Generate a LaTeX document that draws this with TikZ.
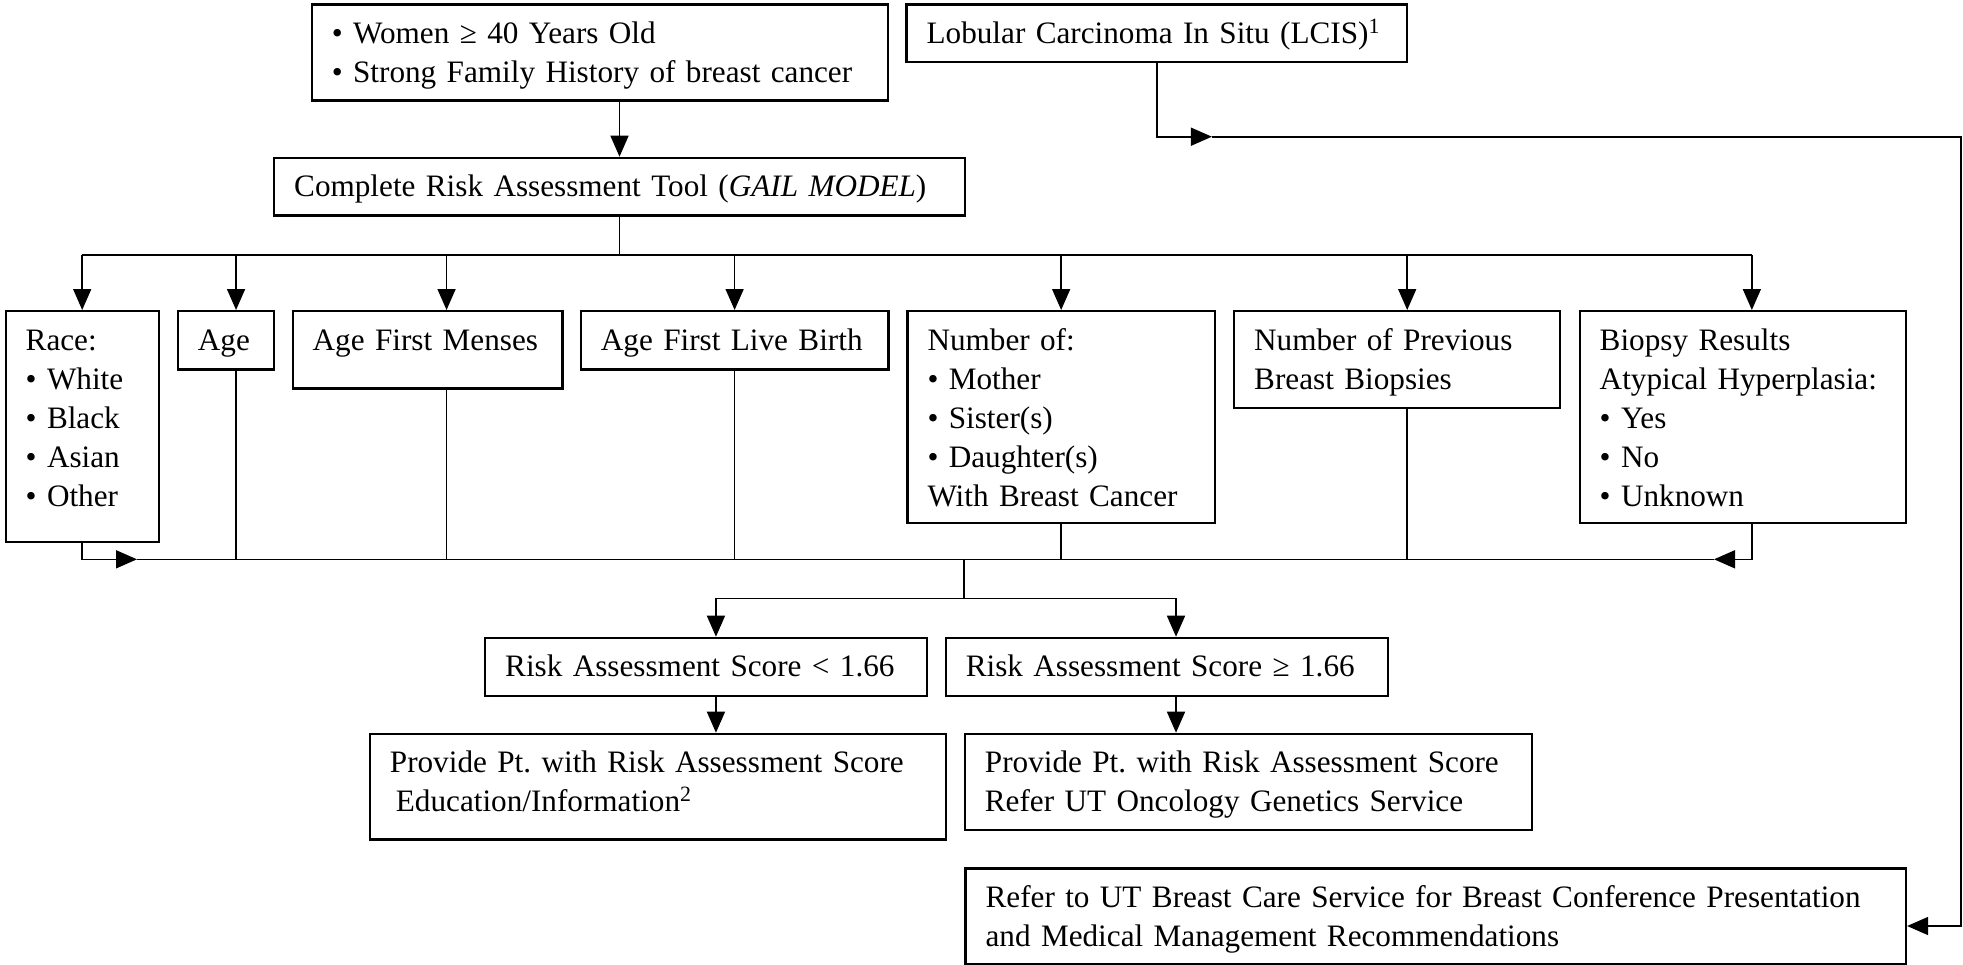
\documentclass[tikz,border=0pt]{standalone}
\usepackage{fontspec}
\setmainfont{Liberation Serif}
\usepackage{xcolor}
\usepackage{tikz}
\usetikzlibrary{calc,arrows.meta}
\definecolor{ink}{HTML}{000000}
\frenchspacing
\tikzset{
  box/.style={draw=ink, line width=1.2pt, anchor=north west, align=left,
    inner xsep=10pt, inner ysep=0pt, text height=19.5pt,
    font=\fontsize{15.6pt}{19.5pt}\selectfont},
  link/.style={draw=ink, line width=0.8pt},
  arr/.style={draw=ink, line width=0.8pt, -{Triangle[length=10.5pt,width=9pt]}},
}

\begin{document}
\begin{tikzpicture}[x=0.5pt,y=-0.5pt]
  \useasboundingbox (0,0) rectangle (1963,964);

  % entry boxes
  \node[box, text width=268pt, text depth=28.5pt] (women) at (310.6,3.3)
    {• Women ≥ 40 Years Old\\• Strong Family History of breast cancer};
  \node[box, text width=230.2pt, text depth=9.35pt] (lcis) at (905.4,3.3)
    {Lobular Carcinoma In Situ (LCIS)\textsuperscript{1}};
  \node[box, text width=325.3pt, text depth=9.3pt] (gail) at (273,156.7)
    {Complete Risk Assessment Tool (\textit{GAIL MODEL})};

  % risk factors
  \node[box, text width=56.5pt, text depth=95.85pt] (race) at (4.5,310)
    {Race:\\• White\\• Black\\• Asian\\• Other};
  \node[box, text width=28.15pt, text depth=9.65pt] (age) at (176.7,310) {Age};
  \node[box, text width=114.85pt, text depth=19.15pt] (menses) at (291.5,310)
    {Age First Menses};
  \node[box, text width=133.7pt, text depth=9.65pt] (birth) at (579.7,310)
    {Age First Live Birth};
  \node[box, text width=133.65pt, text depth=86.35pt] (relatives) at (906.3,310)
    {Number of:\\• Mother\\• Sister(s)\\• Daughter(s)\\With Breast Cancer};
  \node[box, text width=143pt, text depth=28.85pt] (biopsies) at (1233,310)
    {Number of Previous\\Breast Biopsies};
  \node[box, text width=143.15pt, text depth=86.35pt] (results) at (1578.5,310)
    {Biopsy Results\\Atypical Hyperplasia:\\• Yes\\• No\\• Unknown};

  % scores and outcomes
  \node[box, text width=200.75pt, text depth=9.5pt] (low) at (484,636.7)
    {Risk Assessment Score < 1.66};
  \node[box, text width=201.2pt, text depth=9.5pt] (high) at (944.6,636.7)
    {Risk Assessment Score ≥ 1.66};
  \node[box, text width=267.95pt, text depth=33.3pt] (lowinfo) at (368.7,732.7)
    {Provide Pt. with Risk Assessment Score\\\hspace{3pt}Education/Information\textsuperscript{2}};
  \node[box, text width=263.65pt, text depth=28.5pt] (highinfo) at (963.7,732.7)
    {Provide Pt. with Risk Assessment Score\\Refer UT Oncology Genetics Service};
  \node[box, text width=450.15pt, text depth=28.2pt] (refer) at (964.4,867.3)
    {Refer to UT Breast Care Service for Breast Conference Presentation\\and Medical Management Recommendations};

  % fan out to the risk factors
  \draw[arr] (women.south -| gail.north) -- (gail.north);
  \coordinate (fan) at ($(gail.south)+(0,38.4)$);
  \draw[link] (gail.south) -- (fan);
  \foreach \n/\dx in {race/0, age/10, menses/19, birth/0, relatives/0, biopsies/10, results/9} {
    \coordinate (\n-in) at ([xshift=\dx*0.5pt]\n.north);
    \draw[arr] (fan -| \n-in) -- (\n-in);
  }
  \draw[link] (fan -| race-in) -- (fan -| results-in);

  % gather back
  \coordinate (mergeL) at (137,559.3);
  \coordinate (mergeR) at (1714,559.3);
  \coordinate (join) at (963.7,559.3);
  \draw[arr] (race.south) |- (mergeL);
  \draw[arr] (results.south -| results-in) |- (mergeR);
  \draw[link] (mergeL) -- (mergeR);
  \foreach \n in {age,menses,birth,relatives,biopsies}
    \draw[link] (\n.south -| \n-in) -- (mergeL -| \n-in);

  % split by score
  \coordinate (fork) at (963.7,598.3);
  \coordinate (low-in) at ([xshift=5pt]low.north);
  \coordinate (high-in) at ([xshift=4.5pt]high.north);
  \draw[link] (join) -- (fork);
  \draw[link] (fork -| low-in) -- (fork -| high-in);
  \draw[arr] (fork -| low-in) -- (low-in);
  \draw[arr] (fork -| high-in) -- (high-in);
  \draw[arr] (low.south -| low-in) -- (lowinfo.north -| low-in);
  \draw[arr] (high.south -| high-in) -- (highinfo.north -| high-in);

  % LCIS route
  \coordinate (lcisin) at (1211.9,136.7);
  \coordinate (edge) at (1961,926);
  \draw[arr] (lcis.south) |- (lcisin);
  \draw[arr] (lcisin) -| (edge) -- (edge -| refer.east);
\end{tikzpicture}
\end{document}
